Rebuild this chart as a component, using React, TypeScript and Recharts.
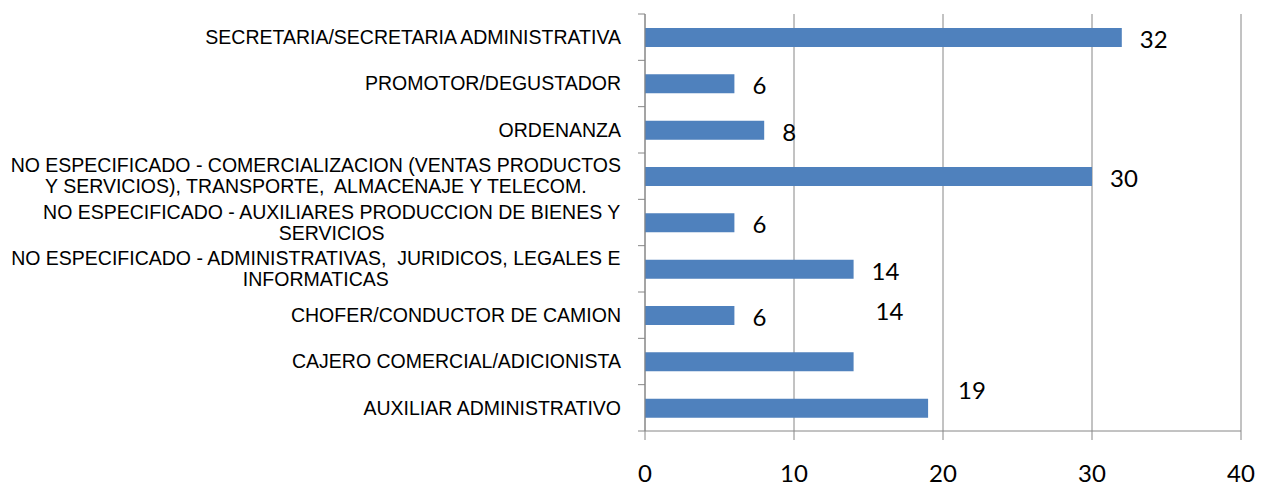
import React from 'react';
import { BarChart, Bar, XAxis, YAxis, CartesianGrid, LabelList } from 'recharts';

// Categories, top to bottom ("\n" marks where the original label wraps)
const CATEGORIES = [
  'SECRETARIA/SECRETARIA ADMINISTRATIVA',
  'PROMOTOR/DEGUSTADOR',
  'ORDENANZA',
  'NO ESPECIFICADO - COMERCIALIZACION (VENTAS PRODUCTOS\nY SERVICIOS), TRANSPORTE,  ALMACENAJE Y TELECOM.',
  'NO ESPECIFICADO - AUXILIARES PRODUCCION DE BIENES Y\nSERVICIOS',
  'NO ESPECIFICADO - ADMINISTRATIVAS,  JURIDICOS, LEGALES E\nINFORMATICAS',
  'CHOFER/CONDUCTOR DE CAMION',
  'CAJERO COMERCIAL/ADICIONISTA',
  'AUXILIAR ADMINISTRATIVO',
];
const VALUES = [32, 6, 8, 30, 6, 14, 6, 14, 19];
const X_TICKS = [0, 10, 20, 30, 40];

// the source chart has two data labels dragged away from their bars
const LABEL_NUDGE: [number, number][] = [
  [0, 0], [0, 0], [0, 0], [0, 0], [0, 0], [0, 0], [0, 0], [4, -52], [12, -20],
];

const W = 1266;
const H = 488;
const TOP = 14;
const AXIS_H = 57;
const LEFT = 645;
const RIGHT = 25;
const BAND = (H - AXIS_H - TOP) / CATEGORIES.length;

const GRAY = '#868686';
const BLUE = '#4F81BD';
const CAT_FONT = "'Liberation Sans', Arial, sans-serif";
const CAT_SIZE = 19.5;
const NUM_FONT = "Lato, 'Open Sans', sans-serif";
const NUM_SIZE = 24;

const data = CATEGORIES.map((name, i) => ({ name, value: VALUES[i] }));

let ctx: CanvasRenderingContext2D | null = null;
const measure = (s: string) => {
  if (!ctx) ctx = document.createElement('canvas').getContext('2d');
  if (!ctx) return s.length * 10;
  ctx.font = `${CAT_SIZE}px ${CAT_FONT}`;
  return ctx.measureText(s).width;
};

const CategoryTick = ({ y, payload, index }: any) => {
  const lines: string[] = String(payload.value).split('\n');
  const right = LEFT - 24;
  const lh = 21;
  const widest = Math.max(...lines.map(measure));
  const cx = right - widest / 2;
  const y0 = y - ((lines.length - 1) * lh) / 2;
  const isLast = index === CATEGORIES.length - 1;
  return (
    <g>
      <line x1={LEFT - 7} x2={LEFT} y1={y - BAND / 2} y2={y - BAND / 2} stroke={GRAY} />
      {isLast && <line x1={LEFT - 7} x2={LEFT} y1={y + BAND / 2} y2={y + BAND / 2} stroke={GRAY} />}
      {lines.map((l, i) => (
        <text
          key={i}
          x={lines.length > 1 ? cx : right}
          y={y0 + i * lh + CAT_SIZE * 0.35}
          textAnchor={lines.length > 1 ? 'middle' : 'end'}
          fontFamily={CAT_FONT}
          fontSize={CAT_SIZE}
          fill="#000"
          style={{ whiteSpace: 'pre' }}
        >
          {l}
        </text>
      ))}
    </g>
  );
};

const ValueTick = ({ x, payload }: any) => (
  <text
    x={x}
    y={H - 6}
    textAnchor="middle"
    fontFamily={NUM_FONT}
    fontSize={NUM_SIZE}
    fill="#000"
  >
    {payload.value}
  </text>
);

const BarLabel = ({ x, y, width, height, value, index }: any) => {
  const [dx, dy] = LABEL_NUDGE[index] || [0, 0];
  return (
    <text
      x={x + width + 18 + dx}
      y={y + height / 2 + 2 + dy + NUM_SIZE * 0.36}
      textAnchor="start"
      fontFamily={NUM_FONT}
      fontSize={NUM_SIZE}
      fill="#000"
    >
      {value}
    </text>
  );
};

export default function App() {
  return (
    <div style={{ position: 'absolute', left: 0, top: 0, background: '#fff' }}>
      <BarChart
        width={W}
        height={H}
        data={data}
        layout="vertical"
        margin={{ top: TOP, right: RIGHT, bottom: 0, left: 0 }}
      >
        <CartesianGrid horizontal={false} stroke={GRAY} />
        <XAxis
          type="number"
          domain={[0, 40]}
          ticks={X_TICKS}
          height={AXIS_H}
          stroke={GRAY}
          tickSize={9}
          tick={<ValueTick />}
          interval={0}
        />
        <YAxis
          type="category"
          dataKey="name"
          width={LEFT}
          stroke={GRAY}
          tickLine={false}
          tick={<CategoryTick />}
          interval={0}
        />
        <Bar dataKey="value" fill={BLUE} barSize={19} isAnimationActive={false}>
          <LabelList dataKey="value" content={<BarLabel />} />
        </Bar>
      </BarChart>
    </div>
  );
}
